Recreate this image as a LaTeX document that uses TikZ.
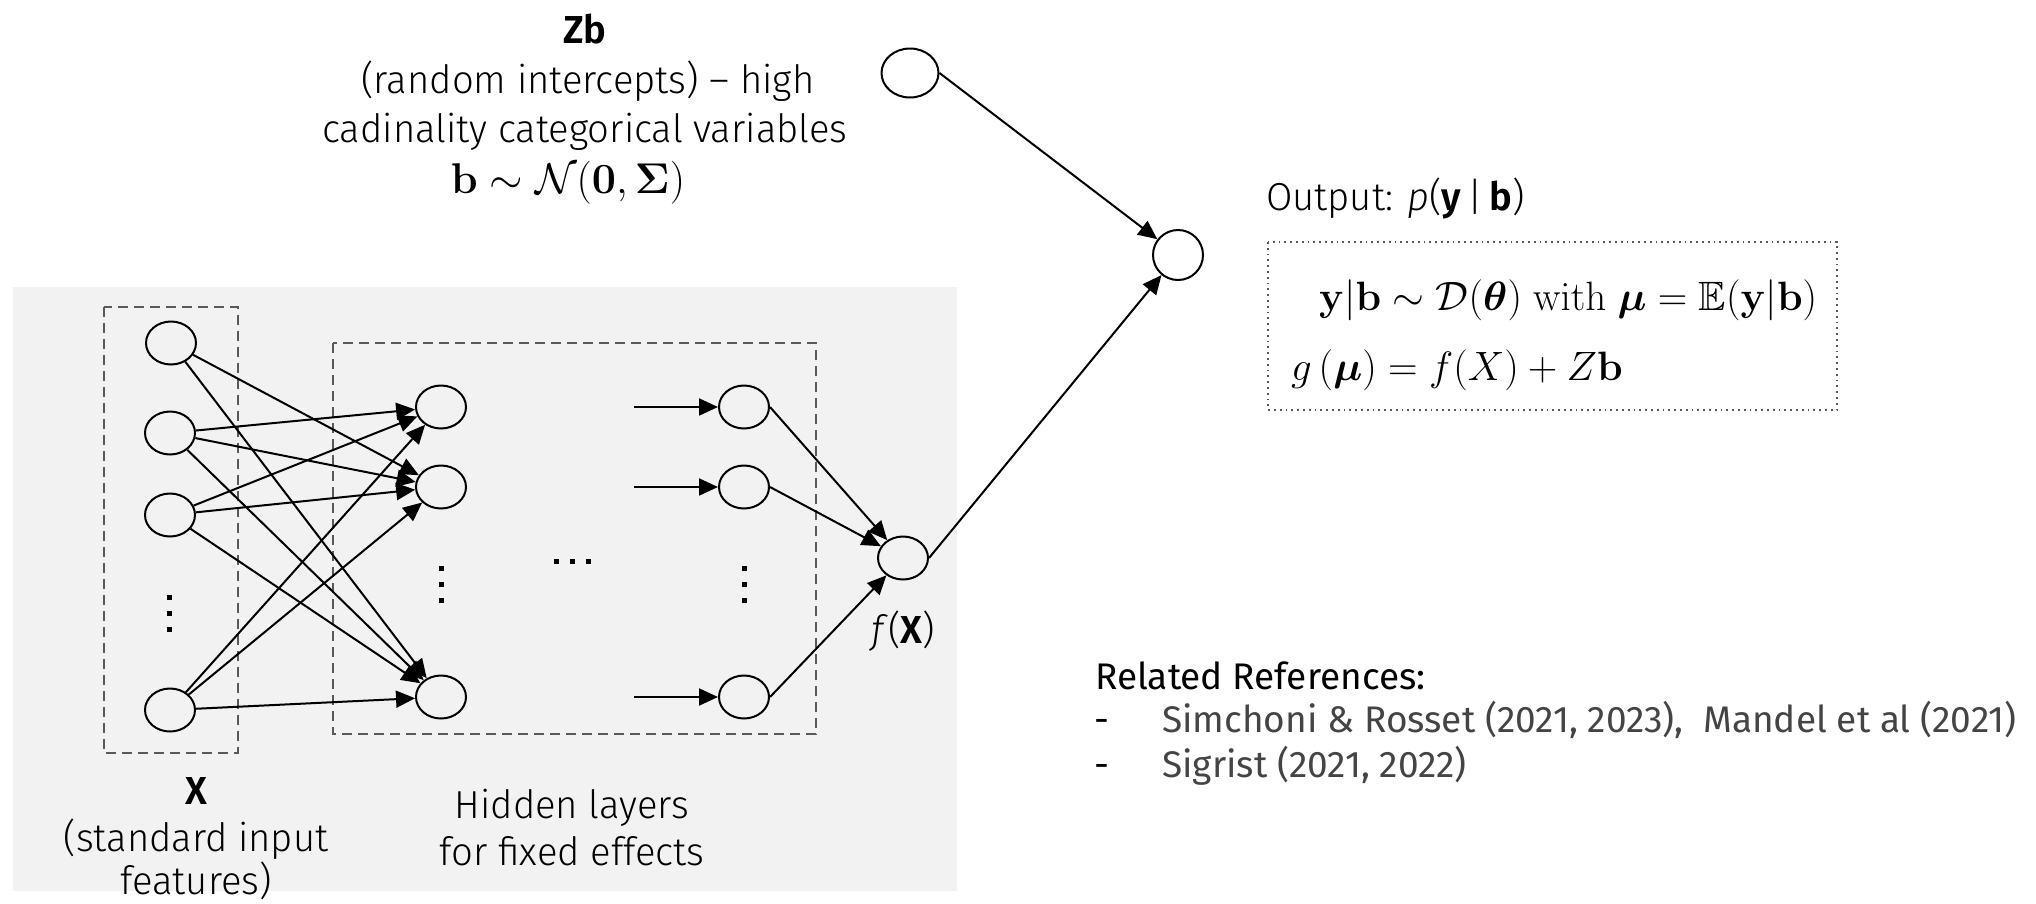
\RequirePackage{fix-cm}
\documentclass[tikz,border=0pt]{standalone}
\usepackage{amsmath,amssymb,bm}
\usepackage[no-math]{fontspec}
\setmainfont{Fira Sans}[UprightFont=* Light, ItalicFont=* Light Italic, BoldFont=* SemiBold, BoldItalicFont=* SemiBold Italic, FakeStretch=0.98]
\newfontfamily\regfont{Fira Sans}
\usetikzlibrary{shapes.geometric,arrows.meta}
\definecolor{panelgray}{HTML}{F2F2F2}
\definecolor{framegray}{HTML}{595959}
\definecolor{refgray}{HTML}{444444}
\tikzset{
  neuron/.style={ellipse, draw, line width=2pt, minimum width=50pt, minimum height=43pt, inner sep=0pt},
  link/.style={line width=2pt, -{Triangle[length=19pt,width=17pt]}},
  layerbox/.style={draw=framegray, line width=1.8pt, dash pattern=on 10pt off 6pt},
  txt/.style={font=\fontsize{39}{47}\selectfont, inner sep=0pt, anchor=base},
  eqn/.style={font=\fontsize{41}{49}\selectfont, inner sep=0pt, anchor=base west},
  reftxt/.style={font=\regfont\fontsize{37}{44}\selectfont, inner sep=0pt, anchor=base west},
  dotmark/.style={fill=black},
}
\begin{document}
\begin{tikzpicture}[x=1pt,y=-1pt]
\useasboundingbox (0,0) rectangle (2036,903);

% shaded panel holding the network
\fill[panelgray] (13,287) rectangle (957,891);
\draw[layerbox] (104,307) rectangle (238,753);
\draw[layerbox] (333,343) rectangle (816,734);

% input layer
\node[neuron] (I1) at (171,343) {};
\node[neuron] (I2) at (170,433) {};
\node[neuron] (I3) at (170,515) {};
\node[neuron] (I4) at (170,710) {};
% first hidden layer
\node[neuron] (H1) at (441,407) {};
\node[neuron] (H2) at (441,487) {};
\node[neuron] (H3) at (441,697) {};
% last hidden layer
\node[neuron] (L1) at (744,407) {};
\node[neuron] (L2) at (744,487) {};
\node[neuron] (L3) at (744,697) {};
% network output and model output
\node[neuron] (F) at (903,558) {};
\node[neuron, minimum width=50pt, minimum height=50pt] (Out) at (1178,255) {};
\node[neuron, minimum width=57pt, minimum height=49pt] (Zb) at (910,73) {};

% free ends of the incoming arrows of the last layer
\coordinate (s1) at (634,407);
\coordinate (s2) at (634,487);
\coordinate (s3) at (634,697);

% ellipsis marks
\foreach \y in {597,613,629} \fill[dotmark] (166.5,{\y-2.5}) rectangle (171.5,{\y+2.5});
\foreach \y in {568,584,600} {
  \fill[dotmark] (438.5,{\y-2.5}) rectangle (443.5,{\y+2.5});
  \fill[dotmark] (741.5,{\y-2.5}) rectangle (746.5,{\y+2.5});
}
\foreach \x in {556,572,588} \fill[dotmark] ({\x-2.5},558.5) rectangle ({\x+2.5},563.5);

% input -> first hidden layer
\draw[link] (I1) -- (H2);
\draw[link] (I1) -- (H3);
\draw[link] (I2) -- (H1);
\draw[link] (I2) -- (H2);
\draw[link] (I2) -- (H3);
\draw[link] (I3) -- (H1);
\draw[link] (I3) -- (H2);
\draw[link] (I3) -- (H3);
\draw[link] (I4) -- (H1);
\draw[link] (I4) -- (H2);
\draw[link] (I4) -- (H3);
% into last hidden layer
\draw[link] (s1) -- (L1);
\draw[link] (s2) -- (L2);
\draw[link] (s3) -- (L3);
% last hidden layer -> f(X)
\draw[link] (L1.east) -- (F);
\draw[link] (L2.east) -- (F);
\draw[link] (L3.east) -- (F);
% to the output
\draw[link] (F.east) -- (Out);
\draw[link] (Zb.east) -- (Out);

% labels
\node[txt] (fx) at (903,643) {\textit{f}(\textbf{X})};
\node[txt] (xt1) at (196,804) {\textbf{X}};
\node[txt] (xt2) at (196,851) {(standard input};
\node[txt] (xt3) at (196,894) {features)};
\node[txt] (ht1) at (572,818) {Hidden layers};
\node[txt] (ht2) at (572,865) {for fixed effects};

\node[txt] (zt1) at (585,43) {\textbf{Zb}};
\node[txt] (zt2) at (588,93) {(random intercepts) – high};
\node[txt] (zt3) at (585,142) {cadinality categorical variables};
\node[txt, font=\fontsize{43}{49}\selectfont] (zt4) at (568,193) {$\mathbf{b}\sim\mathcal{N}(\mathbf{0},\boldsymbol{\Sigma})$};

\node[txt, anchor=base west] (outl) at (1266,210) {Output: \textit{p}(\textbf{y}\,|\,\textbf{b})};
\draw[framegray, line width=1.8pt, dash pattern=on 1.8pt off 4pt] (1268,242) rectangle (1837,410);
\node[eqn] (eq1) at (1319,310) {$\mathbf{y}|\mathbf{b}\sim\mathcal{D}(\boldsymbol{\theta})\ \mathrm{with}\ \boldsymbol{\mu}=\mathbb{E}(\mathbf{y}|\mathbf{b})$};
\node[eqn] (eq2) at (1291,380) {$g\left(\boldsymbol{\mu}\right)=f(X)+Z\mathbf{b}$};

\node[reftxt] (rh) at (1095,689) {Related References:};
\node[reftxt] (d1) at (1094,732) {-};
\node[reftxt, text=refgray] (r1) at (1162,732) {Simchoni \& Rosset (2021, 2023),\ \ Mandel et al (2021)};
\node[reftxt] (d2) at (1094,777) {-};
\node[reftxt, text=refgray] (r2) at (1162,777) {Sigrist (2021, 2022)};
\end{tikzpicture}
\end{document}
